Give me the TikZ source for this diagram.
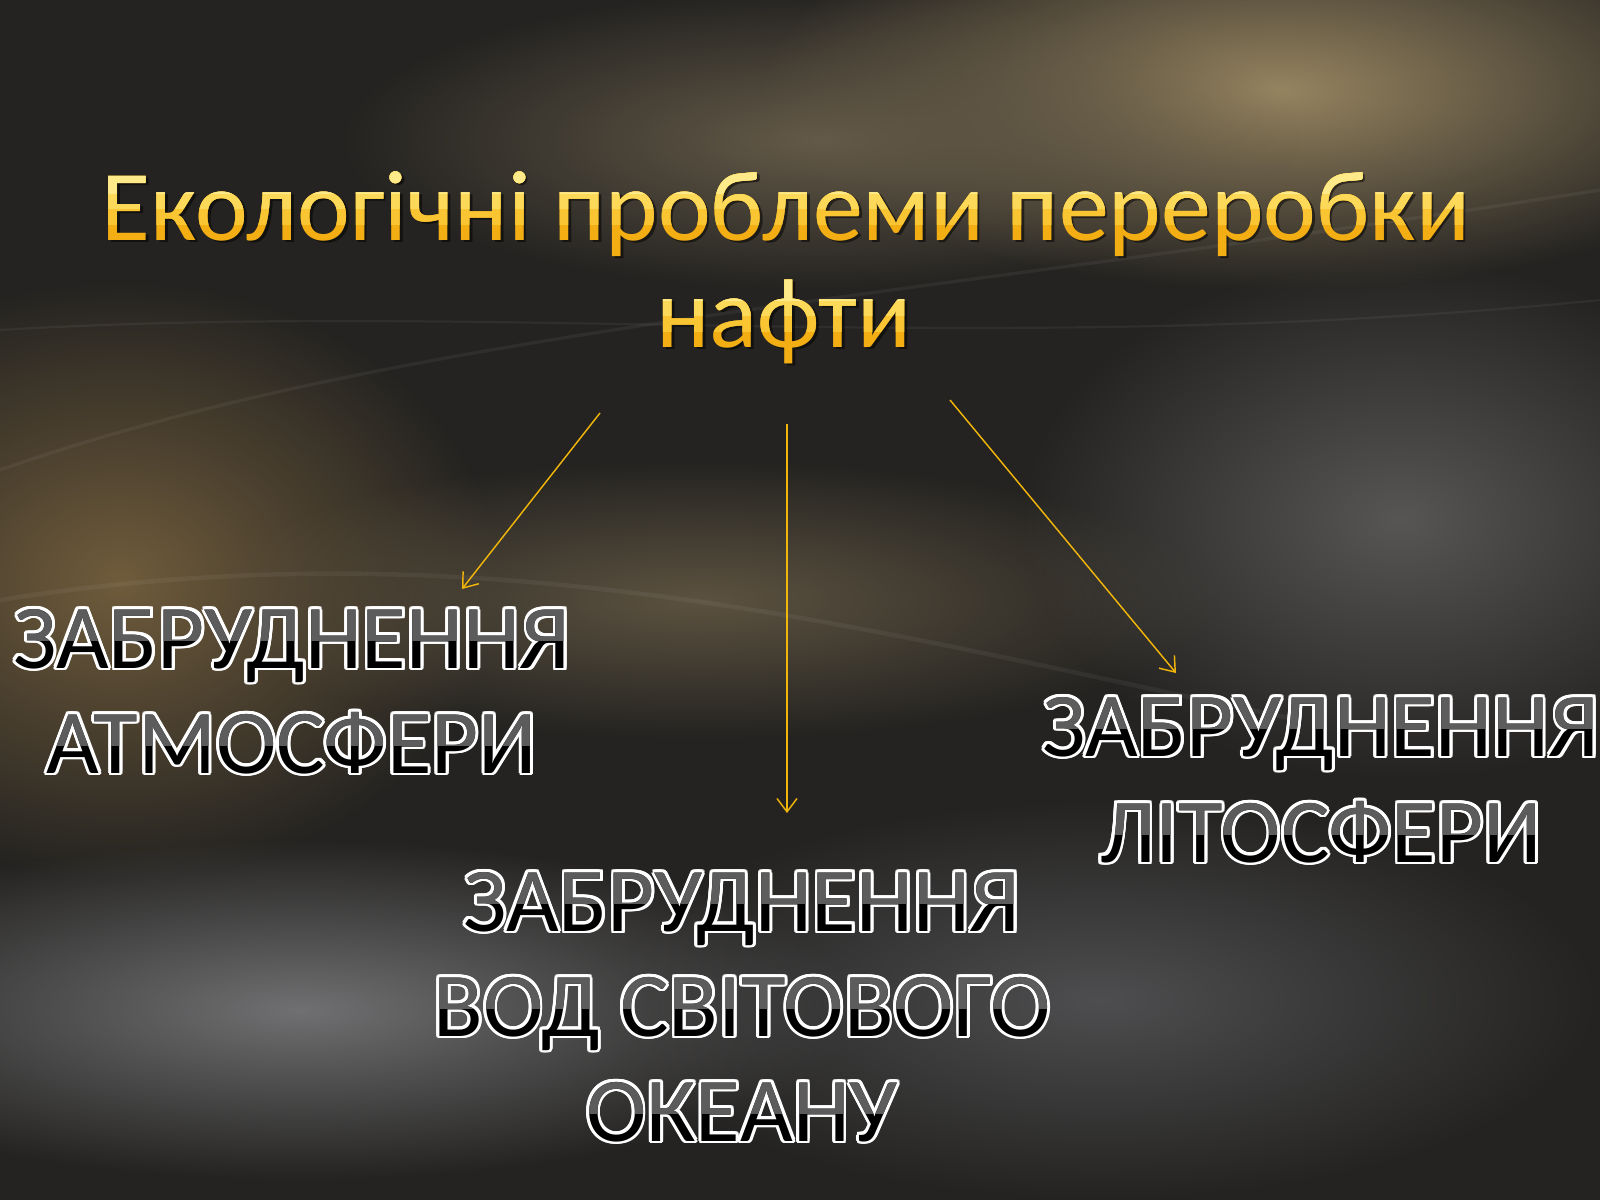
\documentclass[tikz,border=0pt]{standalone}
\usepackage{fontspec}
\setmainfont{Carlito}
\usepackage{contour}
\usetikzlibrary{arrows.meta}
\usetikzlibrary{fadings}

\definecolor{bgdark}{HTML}{242321}
\definecolor{arrowgold}{HTML}{F2B50A}
\definecolor{glossgrey}{HTML}{5C5C5C}
\definecolor{goldA}{HTML}{F3AE14}
\definecolor{goldB}{HTML}{F9C532}
\definecolor{goldC}{HTML}{FCD959}
\definecolor{goldD}{HTML}{FFEA8A}

\tikzfading[name=softglow, inner color=transparent!0, outer color=transparent!100]

\tikzstyle{titletext} = [font=\fontsize{45}{48}\selectfont, anchor=base, inner sep=0pt]
\tikzstyle{bodytext} = [font=\fontsize{41}{48}\selectfont, anchor=base, inner sep=0pt]
\tikzstyle{haze} = [path fading=softglow]
\tikzstyle{streak} = [white, opacity=.05, line cap=round]
\tikzstyle{link} = [draw=arrowgold, line width=0.65pt, -{Straight Barb[length=6pt,width=9pt]}]

\contourlength{1.3pt}

% one line of the glossy outlined caps
\newcommand{\glossline}[3]{%
  \node[bodytext] (#1) at (#2) {\contour{white}{#3}};
  \begin{scope}
    \clip ([yshift=12.5pt]#1.base west) rectangle ([yshift=34pt]#1.base east);
    \node[bodytext, text=glossgrey] (#1-top) at (#2) {#3};
  \end{scope}}

% one line of the golden title
\newcommand{\goldline}[3]{%
  \node[titletext, text=black, opacity=.5] (#1-shadow) at ([xshift=1.2pt,yshift=-1.2pt]#2) {#3};
  \node[titletext, text=goldA] (#1) at (#2) {#3};
  \begin{scope}
    \clip ([yshift=7pt]#1.base west) rectangle ([yshift=40pt]#1.base east);
    \node[titletext, text=goldB] (#1-b) at (#2) {#3};
  \end{scope}
  \begin{scope}
    \clip ([yshift=14pt]#1.base west) rectangle ([yshift=40pt]#1.base east);
    \node[titletext, text=goldC] (#1-c) at (#2) {#3};
  \end{scope}
  \begin{scope}
    \clip ([yshift=21pt]#1.base west) rectangle ([yshift=40pt]#1.base east);
    \node[titletext, text=goldD] (#1-d) at (#2) {#3};
  \end{scope}}

\begin{document}
\begin{tikzpicture}[x=0.45pt,y=-0.45pt]
    \useasboundingbox (0,0) rectangle (1600,1200);

    % background
    \fill[bgdark] (0,0) rectangle (1600,1200);
    \fill[haze, color={rgb,255:red,150;green,132;blue,96}] (1280,90) ellipse [x radius=520, y radius=200];
    \fill[haze, color={rgb,255:red,100;green,90;blue,72}] (820,140) ellipse [x radius=480, y radius=150];
    \fill[haze, color={rgb,255:red,112;green,92;blue,60}] (120,580) ellipse [x radius=380, y radius=300];
    \fill[haze, color={rgb,255:red,92;green,82;blue,64}] (700,600) ellipse [x radius=520, y radius=140];
    \fill[haze, color={rgb,255:red,88;green,86;blue,84}] (1400,520) ellipse [x radius=380, y radius=260];
    \fill[haze, color={rgb,255:red,112;green,112;blue,114}] (300,1010) ellipse [x radius=560, y radius=170];
    \fill[haze, color={rgb,255:red,78;green,78;blue,80}] (1100,1000) ellipse [x radius=500, y radius=200];
    \draw[streak, line width=1.5pt] (0,470) .. controls (400,330) and (900,300) .. (1600,190);
    \draw[streak, line width=1pt] (0,330) .. controls (500,300) and (1000,360) .. (1600,300);
    \draw[streak, line width=2pt] (0,600) .. controls (500,520) and (900,640) .. (1300,720);

    % title
    \goldline{title1}{786,240}{Екологічні проблеми переробки}
    \goldline{title2}{784,347}{нафти}

    % three branches
    \glossline{atm1}{292,668}{ЗАБРУДНЕННЯ}
    \glossline{atm2}{292,773}{АТМОСФЕРИ}

    \glossline{ocean1}{742,931}{ЗАБРУДНЕННЯ}
    \glossline{ocean2}{742,1036}{ВОД СВІТОВОГО}
    \glossline{ocean3}{742,1141}{ОКЕАНУ}

    \glossline{lith1}{1321,756}{ЗАБРУДНЕННЯ}
    \glossline{lith2}{1321,862}{ЛІТОСФЕРИ}

    % arrows
    \coordinate (atm-from) at (600,413);
    \coordinate (atm-to) at (462,589);
    \coordinate (ocean-from) at (787,424);
    \coordinate (ocean-to) at (787,813);
    \coordinate (lith-from) at (950,400);
    \coordinate (lith-to) at (1176,673);

    \draw [link] (atm-from) -- (atm-to);
    \draw [link] (ocean-from) -- (ocean-to);
    \draw [link] (lith-from) -- (lith-to);

\end{tikzpicture}
\end{document}
